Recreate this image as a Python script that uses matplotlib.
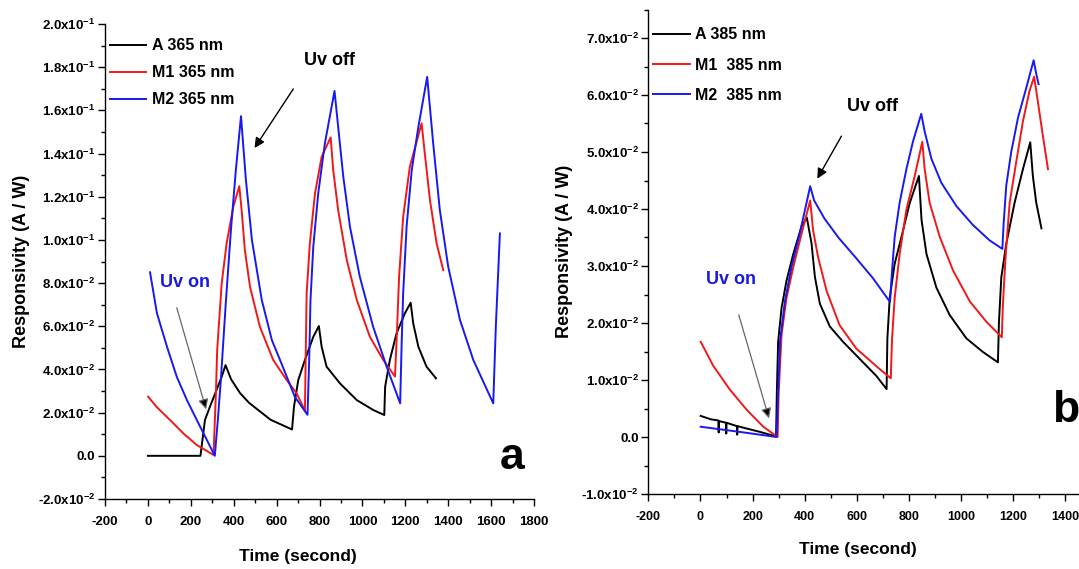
from matplotlib import pyplot
from matplotlib.ticker import MultipleLocator

pyplot.rcParams['font.family'] = ['Liberation Sans Narrow', 'Liberation Sans', 'DejaVu Sans']
pyplot.rcParams['font.weight'] = 'bold'
pyplot.rcParams['mathtext.default'] = 'regular'
pyplot.rcParams['axes.unicode_minus'] = False

# ---------- panel a : 365 nm ----------
a_A_t = [0, 245, 266, 289, 320, 344, 362, 388, 430, 472, 572, 672,
         681, 701, 732, 771, 797, 810, 833, 895, 974, 1051, 1102,
         1106, 1128, 1159, 1198, 1225, 1237, 1261, 1299, 1343]
a_A_y = [0.0, 0.0, 0.0166, 0.0227, 0.0305, 0.0366, 0.0420, 0.0354, 0.0290, 0.0245, 0.0167, 0.0122,
         0.0227, 0.0351, 0.0444, 0.0551, 0.0601, 0.0505, 0.0413, 0.0336, 0.0258, 0.0212, 0.0189,
         0.0320, 0.0444, 0.0567, 0.0660, 0.0709, 0.0613, 0.0505, 0.0413, 0.0359]

a_M1_t = [1, 40, 103, 165, 228, 306, 317, 323, 344, 367, 398, 426,
          437, 452, 476, 522, 584, 647, 693, 732, 740, 755, 779, 810, 852,
          864, 887, 927, 974, 1035, 1097, 1152, 1162, 1171, 1190, 1221, 1276,
          1291, 1315, 1346, 1377]
a_M1_y = [0.0274, 0.0227, 0.0166, 0.0104, 0.0050, 0.0004, 0.0290, 0.0490, 0.0799, 0.0984, 0.1153, 0.1249,
          0.1138, 0.0953, 0.0783, 0.0598, 0.0444, 0.0351, 0.0290, 0.0210, 0.0752, 0.0984, 0.1215, 0.1385, 0.1475,
          0.1323, 0.1138, 0.0907, 0.0721, 0.0551, 0.0444, 0.0367, 0.0598, 0.0829, 0.1107, 0.1338, 0.1540,
          0.1400, 0.1184, 0.0984, 0.0860]

a_M2_t = [10, 42, 89, 135, 182, 228, 275, 312, 326, 340, 364, 387, 410, 434,
          457, 485, 531, 578, 629, 685, 744, 752, 758, 771, 794, 825, 870,
          887, 911, 942, 988, 1050, 1113, 1176, 1183, 1190, 1206, 1230, 1261, 1302,
          1330, 1361, 1400, 1455, 1517, 1610, 1622, 1641]
a_M2_y = [0.0850, 0.0661, 0.0505, 0.0365, 0.0258, 0.0166, 0.0073, 0.0, 0.0166, 0.0351, 0.0721, 0.1045, 0.1323, 0.1573,
          0.1277, 0.0999, 0.0721, 0.0536, 0.0412, 0.0273, 0.0190, 0.0444, 0.0721, 0.0968, 0.1215, 0.1447, 0.1690,
          0.1524, 0.1292, 0.1061, 0.0829, 0.0598, 0.0413, 0.0243, 0.0521, 0.0752, 0.1061, 0.1323, 0.1524, 0.1755,
          0.1447, 0.1138, 0.0876, 0.0629, 0.0444, 0.0243, 0.0598, 0.1030]

# ---------- panel b : 385 nm ----------
b_A_t = [1, 40, 69, 70, 71, 98, 99, 100, 140, 141, 142, 228, 290,
         293, 298, 311, 330, 356, 388, 408, 426, 439, 458, 496, 547, 611, 675, 714,
         717, 726, 745, 771, 803, 838, 848, 867, 905, 956, 1020, 1084, 1141,
         1145, 1154, 1173, 1205, 1237, 1265, 1275, 1288, 1308]
b_A_y = [0.0037, 0.0031, 0.0029, 0.0008, 0.0028, 0.0025, 0.0006, 0.0025, 0.0019, 0.0004, 0.0019, 0.0009, 0.0001,
         0.0077, 0.0167, 0.0226, 0.0274, 0.0321, 0.0370, 0.0385, 0.0340, 0.0281, 0.0234, 0.0194, 0.0167, 0.0137, 0.0107, 0.0084,
         0.0173, 0.0244, 0.0304, 0.0351, 0.0411, 0.0458, 0.0381, 0.0321, 0.0262, 0.0214, 0.0173, 0.0149, 0.0131,
         0.0202, 0.0280, 0.0339, 0.0411, 0.0470, 0.0517, 0.0458, 0.0411, 0.0366]

b_M1_t = [1, 49, 113, 177, 241, 296, 300, 311, 330, 356, 388, 421,
          432, 451, 484, 534, 598, 688, 730, 735, 745, 764, 790, 822, 851,
          860, 879, 918, 969, 1033, 1097, 1156, 1160, 1171, 1186, 1211, 1237, 1262, 1280,
          1294, 1311, 1333]
b_M1_y = [0.0167, 0.0125, 0.0083, 0.0048, 0.0018, 0.0, 0.0077, 0.0179, 0.0244, 0.0298, 0.0357, 0.0415,
          0.0363, 0.0316, 0.0256, 0.0196, 0.0155, 0.0119, 0.0103, 0.0173, 0.0244, 0.0321, 0.0399, 0.0458, 0.0518,
          0.0470, 0.0411, 0.0351, 0.0292, 0.0238, 0.0202, 0.0175, 0.0232, 0.0321, 0.0411, 0.0482, 0.0554, 0.0607, 0.0632,
          0.0589, 0.0536, 0.0470]

b_M2_t = [1, 150, 292, 298, 305, 324, 349, 381, 421,
          436, 476, 529, 595, 661, 727, 735, 745, 764, 790, 815, 847,
          860, 886, 924, 982, 1045, 1109, 1158, 1163, 1173, 1192, 1218, 1250, 1278,
          1288, 1297]
b_M2_y = [0.0018, 0.0009, 0.0, 0.0077, 0.0167, 0.0238, 0.0298, 0.0357, 0.0440,
          0.0415, 0.0383, 0.0350, 0.0315, 0.0279, 0.0237, 0.0292, 0.0351, 0.0411, 0.0470, 0.0518, 0.0567,
          0.0536, 0.0488, 0.0446, 0.0405, 0.0372, 0.0345, 0.0330, 0.0375, 0.0441, 0.0500, 0.0560, 0.0613, 0.0661,
          0.0637, 0.0619]

a_labels = ['A 365 nm', 'M1 365 nm', 'M2 365 nm']
b_labels = ['A 385 nm', 'M1  385 nm', 'M2  385 nm']

a_yticks = [-0.02, 0.0, 0.02, 0.04, 0.06, 0.08, 0.10, 0.12, 0.14, 0.16, 0.18, 0.20]
a_yticklabels = [r'-2.0x10$^{-2}$', '0.0', r'2.0x10$^{-2}$', r'4.0x10$^{-2}$', r'6.0x10$^{-2}$', r'8.0x10$^{-2}$',
                 r'1.0x10$^{-1}$', r'1.2x10$^{-1}$', r'1.4x10$^{-1}$', r'1.6x10$^{-1}$', r'1.8x10$^{-1}$', r'2.0x10$^{-1}$']
b_yticks = [-0.01, 0.0, 0.01, 0.02, 0.03, 0.04, 0.05, 0.06, 0.07]
b_yticklabels = [r'-1.0x10$^{-2}$', '0.0', r'1.0x10$^{-2}$', r'2.0x10$^{-2}$', r'3.0x10$^{-2}$',
                 r'4.0x10$^{-2}$', r'5.0x10$^{-2}$', r'6.0x10$^{-2}$', r'7.0x10$^{-2}$']

colors = ['black', '#f01818', '#1818f0']


def style_axes(ax, yticks, yticklabels):
    ax.spines['top'].set_visible(False)
    ax.spines['right'].set_visible(False)
    ax.spines['left'].set_linewidth(1.0)
    ax.spines['bottom'].set_linewidth(1.0)
    ax.xaxis.set_major_locator(MultipleLocator(200))
    ax.xaxis.set_minor_locator(MultipleLocator(100))
    ax.set_yticks(yticks)
    ax.set_yticklabels(yticklabels)
    ax.yaxis.set_minor_locator(MultipleLocator((yticks[1] - yticks[0]) / 2))
    ax.tick_params(which='major', direction='out', length=5, width=1, labelsize=9.5, pad=2)
    ax.tick_params(which='minor', direction='out', length=3, width=1)
    ax.tick_params(axis='x', which='major', pad=7)
    ax.set_xlabel('Time (second)', fontsize=12.5, fontweight='bold')
    ax.set_ylabel('Responsivity (A / W)', fontsize=13, fontweight='bold', family='Liberation Sans')


fig = pyplot.figure(figsize=(10.79, 5.69), dpi=100)

# panel a
ax_a = fig.add_axes([105 / 1079, 1 - 499 / 569, 429 / 1079, 475 / 569])
for t, y, c, lab in zip([a_A_t, a_M1_t, a_M2_t], [a_A_y, a_M1_y, a_M2_y], colors, a_labels):
    ax_a.plot(t, y, color=c, linewidth=1.4, label=lab)
ax_a.set_xlim(-200, 1800)
ax_a.set_ylim(-0.02, 0.2)
style_axes(ax_a, a_yticks, a_yticklabels)
ax_a.yaxis.set_label_coords(-0.175, 0.5)
ax_a.xaxis.set_label_coords(0.45, -0.105)
ax_a.legend(loc='upper left', bbox_to_anchor=(0.005, 0.975), frameon=False, fontsize=11.5,
            handlelength=2.3, handletextpad=0.35, labelspacing=0.75, borderaxespad=0.05, borderpad=0.1)
ax_a.text(848, 0.183, 'Uv off', fontsize=13, ha='center', va='center')
ax_a.annotate('', xy=(490, 0.1415), xytext=(685, 0.171),
              arrowprops=dict(arrowstyle='-|>', color='black', lw=1.0, mutation_scale=15))
ax_a.text(172, 0.0804, 'Uv on', fontsize=13, color='#1818e0', ha='center', va='center')
ax_a.annotate('', xy=(275, 0.0203), xytext=(131, 0.0698),
              arrowprops=dict(arrowstyle='-|>', edgecolor='#666666', facecolor='black', lw=0.9, mutation_scale=15))
ax_a.text(1697, -0.001, 'a', fontsize=32, ha='center', va='center', family='Liberation Sans')

# panel b
ax_b = fig.add_axes([648.3 / 1079, 1 - 494 / 569, 430.7 / 1079, 484.5 / 569])
for t, y, c, lab in zip([b_A_t, b_M1_t, b_M2_t], [b_A_y, b_M1_y, b_M2_y], colors, b_labels):
    ax_b.plot(t, y, color=c, linewidth=1.4, label=lab)
ax_b.set_xlim(-200, 1452)
ax_b.set_ylim(-0.01, 0.075)
style_axes(ax_b, b_yticks, b_yticklabels)
ax_b.tick_params(axis='x', labelsize=9)
ax_b.yaxis.set_label_coords(-0.175, 0.5)
ax_b.xaxis.set_label_coords(0.487, -0.1)
ax_b.legend(loc='upper left', bbox_to_anchor=(0.005, 0.968), frameon=False, fontsize=11.5,
            handlelength=2.3, handletextpad=0.35, labelspacing=0.95, borderaxespad=0.05, borderpad=0.1)
ax_b.text(661, 0.0579, 'Uv off', fontsize=13, ha='center', va='center')
ax_b.annotate('', xy=(443, 0.0449), xytext=(546, 0.0532),
              arrowprops=dict(arrowstyle='-|>', color='black', lw=1.0, mutation_scale=15))
ax_b.text(117, 0.0277, 'Uv on', fontsize=13, color='#1818e0', ha='center', va='center')
ax_b.annotate('', xy=(266, 0.0028), xytext=(144, 0.0219),
              arrowprops=dict(arrowstyle='-|>', edgecolor='#666666', facecolor='black', lw=0.9, mutation_scale=15))
ax_b.text(1400, 0.0046, 'b', fontsize=32, ha='center', va='center', family='Liberation Sans')

pyplot.savefig('out.png', dpi=100)
